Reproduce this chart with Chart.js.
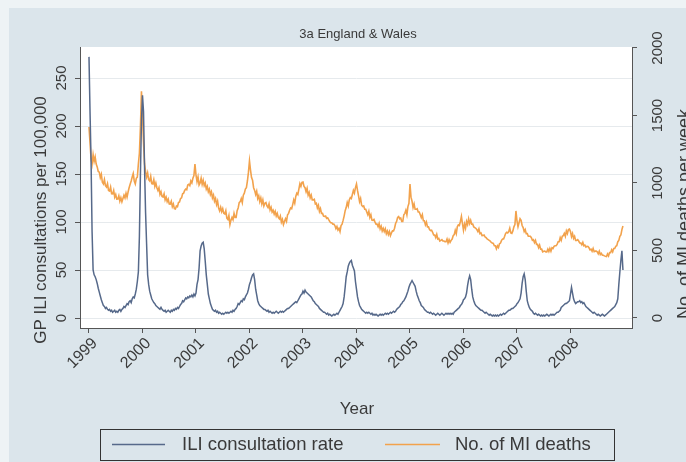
<!DOCTYPE html>
<html><head><meta charset="utf-8">
<script src="https://cdn.jsdelivr.net/npm/chart.js@4.4.1/dist/chart.umd.min.js"></script>
<style>html,body{margin:0;padding:0;background:#dbe5eb;}#wrap{width:686px;height:462px;position:relative;}</style>
</head><body><div id="wrap"><canvas id="c" width="686" height="462"></canvas></div>
<script>
const chartTitle = "3a England & Wales";
const xAxisTitle = "Year";
const leftAxisTitle = "GP ILI consultations per 100,000";
const rightAxisTitle = "No. of MI deaths per week";
const seriesNames = ["ILI consultation rate", "No. of MI deaths"];
const yearTicks = [1999, 2000, 2001, 2002, 2003, 2004, 2005, 2006, 2007, 2008];
const leftTicks = [0, 50, 100, 150, 200, 250];
const rightTicks = [0, 500, 1000, 1500, 2000];
const firstYear = 1999;
const weeksPerYear = 52;

// weekly GP ILI consultation rate per 100,000 (1999 wk1 .. 2008 wk52)
const iliRate = [
272,215,165,90,50,45,43,40,36,31,27,23,19,16,13,12,10,11,9,8,9,7,8,6,7,8,6,7,6,8,9,7,9,10,12,11,13,15,14,17,18,16,20,22,21,25,30,38,48,85,150,205,
232,215,157,110,77,45,35,28,24,20,18,16,15,13,12,11,10,9,11,9,8,7,8,6,7,8,7,6,8,7,9,8,10,9,11,10,12,14,15,18,17,19,21,20,22,21,23,22,24,22,25,23,
26,35,40,52,70,75,78,79,72,59,45,35,25,20,15,12,9,8,7,8,6,7,5,6,5,4,5,4,5,6,5,6,5,6,7,6,8,7,9,10,12,15,14,16,18,17,20,19,22,24,26,30,
35,38,42,45,46,40,30,24,18,15,13,12,11,10,9,9,8,7,8,6,7,6,5,6,5,6,7,6,5,6,7,6,7,6,7,8,9,10,10,11,12,13,14,15,16,17,16,18,20,22,24,25,
28,26,29,27,26,25,24,23,22,20,18,17,15,14,13,12,10,9,8,7,6,6,5,4,5,3,4,3,2,3,4,3,4,5,4,6,8,10,12,15,22,32,43,48,54,57,59,60,55,52,49,38,
30,22,17,13,11,9,8,7,6,5,6,5,6,5,4,5,3,4,3,4,3,2,3,4,3,4,3,4,5,4,5,4,5,6,5,6,7,6,7,9,10,11,12,14,15,17,18,20,22,25,28,32,
35,37,39,37,35,33,28,24,21,18,16,13,12,11,9,8,7,6,6,5,6,5,4,5,4,3,4,5,4,3,4,5,4,3,4,5,4,5,4,5,4,5,4,6,7,8,9,10,11,13,14,16,
19,20,22,26,34,40,44,40,30,22,18,15,13,12,11,10,9,8,8,7,6,5,6,5,4,3,4,3,2,3,2,3,2,3,2,3,4,3,4,5,4,5,6,7,8,8,9,10,10,11,12,13,
15,16,18,20,26,36,43,46,40,28,18,14,11,9,8,7,5,4,5,4,3,4,3,2,3,2,3,2,3,4,3,2,3,4,3,4,3,4,5,6,6,7,8,11,12,13,14,15,15,16,17,18,
25,32,26,20,17,15,16,17,17,18,16,17,15,16,14,12,11,10,9,8,7,6,5,6,5,4,3,4,3,2,3,4,3,2,3,4,5,6,7,8,9,10,11,12,14,16,20,35,48,60,70,50
];

// weekly number of MI deaths (1999 wk1 .. 2008 wk52)
const miDeaths = [
1415,1300,1180,1140,1210,1160,1193,1140,1119,1085,1080,1040,1065,1005,993,1025,980,970,995,945,941,970,920,919,945,895,915,880,881,905,865,890,860,885,910,890,925,895,933,965,990,1015,1044,1070,1015,993,1035,1044,1141,1220,1415,1680,
1500,1300,1141,1085,1044,1075,1025,1015,1050,995,993,1025,975,1000,965,945,965,915,935,900,896,920,875,895,862,880,845,844,865,825,845,810,807,830,825,855,860,885,890,920,925,945,955,950,985,990,980,1015,1000,1035,1055,1141,
1060,1010,1045,985,1000,1035,990,1020,980,1000,955,975,935,955,915,935,890,910,865,885,840,865,815,793,820,788,810,775,770,795,740,730,760,692,725,745,728,775,745,745,795,815,855,862,885,855,910,925,955,965,1015,1080,
1163,1095,1040,1020,965,945,915,940,885,905,862,890,845,875,830,850,855,830,818,845,800,820,785,798,770,790,755,775,745,735,755,710,730,692,715,735,715,765,775,798,815,810,840,875,850,900,925,915,955,995,975,1005,
1007,975,965,935,960,910,930,890,910,875,875,880,845,850,815,835,790,810,775,775,755,752,755,738,742,728,715,705,705,695,695,685,662,678,652,664,640,684,695,723,755,795,818,855,830,875,892,885,915,945,925,965,
993,945,905,862,885,835,826,830,805,805,785,765,790,745,765,725,723,730,710,695,695,676,700,660,680,645,664,640,660,625,645,618,640,610,630,645,645,665,700,715,745,752,735,740,715,715,765,775,798,765,825,850,
993,895,865,818,845,805,805,810,785,785,765,744,765,720,720,690,710,675,675,655,648,650,635,615,615,596,620,585,590,570,575,580,570,570,565,565,585,556,580,560,575,585,610,618,650,625,675,690,685,715,752,700,
650,695,665,715,692,735,700,724,695,695,675,670,665,655,640,660,625,630,610,612,615,600,595,585,580,575,570,560,555,552,535,535,512,534,522,550,555,575,585,585,605,627,635,630,640,665,630,627,645,675,692,793,
720,676,705,735,724,685,670,640,655,625,625,605,605,605,595,575,580,558,575,545,545,521,540,510,510,490,494,495,490,490,510,492,515,495,520,515,531,535,535,545,565,565,595,575,605,610,627,605,645,625,655,659,
640,602,625,590,605,575,575,580,570,555,555,543,560,535,540,525,531,530,520,505,510,495,515,491,495,495,490,475,495,470,479,465,465,460,457,455,475,460,485,484,505,490,515,515,531,535,565,575,605,615,655,681
];

const FONT = '"Liberation Sans", Arial, sans-serif';
const iliColor = '#56698a';
const miColor = '#f2a24c';
const textColor = '#3a3a3a';

const toPoints = arr => arr.map((v, i) => ({ x: firstYear + i / weeksPerYear, y: v }));

const decor = {
  id: 'decor',
  beforeDraw(chart) {
    const { ctx, chartArea: a } = chart;
    ctx.save();
    ctx.fillStyle = '#dbe5eb';
    ctx.fillRect(0, 0, chart.width, chart.height);
    ctx.fillStyle = '#eef3f5';
    ctx.fillRect(0, 0, chart.width, 8);
    ctx.fillRect(0, 0, 9, chart.height);
    ctx.fillStyle = '#ffffff';
    ctx.fillRect(a.left, a.top, a.right - a.left, a.bottom - a.top);
    ctx.restore();
  },
  afterDraw(chart) {
    const { ctx, chartArea: a, scales } = chart;
    ctx.save();
    ctx.fillStyle = textColor;
    ctx.textBaseline = 'alphabetic';
    ctx.textAlign = 'center';
    ctx.font = '13px ' + FONT;
    ctx.fillText(chartTitle, (a.left + a.right) / 2 + 2, 38);
    const rot = (x, y, text) => {
      ctx.save(); ctx.translate(x, y); ctx.rotate(-Math.PI / 2);
      ctx.textAlign = 'center'; ctx.fillText(text, 0, 0); ctx.restore();
    };
    ctx.font = '15px ' + FONT;
    leftTicks.forEach(v => rot(66, scales.yL.getPixelForValue(v), String(v)));
    rightTicks.forEach(v => rot(662, scales.yR.getPixelForValue(v), String(v)));
    ctx.font = '17px ' + FONT;
    rot(46, 220, leftAxisTitle);
    ctx.font = '18px ' + FONT;
    rot(690, 214, rightAxisTitle);
    ctx.font = '17px ' + FONT;
    ctx.textAlign = 'center';
    ctx.fillText(xAxisTitle, (a.left + a.right) / 2 + 1, 414);
    // legend
    ctx.strokeStyle = '#333';
    ctx.lineWidth = 1;
    ctx.strokeRect(100.5, 429.5, 514, 31);
    ctx.lineWidth = 1.5;
    ctx.strokeStyle = iliColor;
    ctx.beginPath(); ctx.moveTo(112, 444.5); ctx.lineTo(165, 444.5); ctx.stroke();
    ctx.strokeStyle = miColor;
    ctx.beginPath(); ctx.moveTo(385, 444.5); ctx.lineTo(440, 444.5); ctx.stroke();
    ctx.font = '18.5px ' + FONT;
    ctx.textAlign = 'left';
    ctx.textBaseline = 'middle';
    ctx.fillText(seriesNames[0], 182, 445);
    ctx.fillText(seriesNames[1], 455, 445);
    ctx.restore();
  }
};

new Chart(document.getElementById('c'), {
  type: 'line',
  data: {
    datasets: [
      { label: seriesNames[0], data: toPoints(iliRate), yAxisID: 'yL', borderColor: iliColor, borderWidth: 1.5, pointRadius: 0, tension: 0, fill: false },
      { label: seriesNames[1], data: toPoints(miDeaths), yAxisID: 'yR', borderColor: miColor, borderWidth: 1.6, pointRadius: 0, tension: 0, fill: false }
    ]
  },
  options: {
    responsive: false,
    animation: false,
    devicePixelRatio: 1,
    layout: { padding: { top: 47, left: 0, right: 0, bottom: 0 } },
    plugins: { legend: { display: false }, title: { display: false }, tooltip: { enabled: false } },
    scales: {
      x: {
        type: 'linear', min: 1998.832, max: 2009.15,
        afterBuildTicks: s => { s.ticks = yearTicks.map(v => ({ value: v })); },
        afterFit: s => { s.height = 134; },
        grid: { display: true, drawOnChartArea: false, drawTicks: true, tickLength: 5, tickColor: '#555' },
        border: { display: true, color: '#555', width: 1 },
        ticks: { autoSkip: false, minRotation: 45, maxRotation: 45, padding: 1, labelOffset: 6, color: textColor, font: { family: FONT, size: 16 }, callback: v => String(v) }
      },
      yL: {
        type: 'linear', position: 'left', min: -10.4, max: 282.3,
        afterBuildTicks: s => { s.ticks = leftTicks.map(v => ({ value: v })); },
        afterFit: s => { s.width = 80; },
        grid: { display: true, drawOnChartArea: true, color: '#e6eaed', drawTicks: true, tickLength: 5, tickColor: '#555' },
        border: { display: true, color: '#555', width: 1 },
        ticks: { display: false }
      },
      yR: {
        type: 'linear', position: 'right', min: -74.1, max: 2007.4,
        afterBuildTicks: s => { s.ticks = rightTicks.map(v => ({ value: v })); },
        afterFit: s => { s.width = 54; },
        grid: { display: true, drawOnChartArea: false, drawTicks: true, tickLength: 5, tickColor: '#555' },
        border: { display: true, color: '#555', width: 1 },
        ticks: { display: false }
      }
    }
  },
  plugins: [decor]
});
</script>
</body></html>
